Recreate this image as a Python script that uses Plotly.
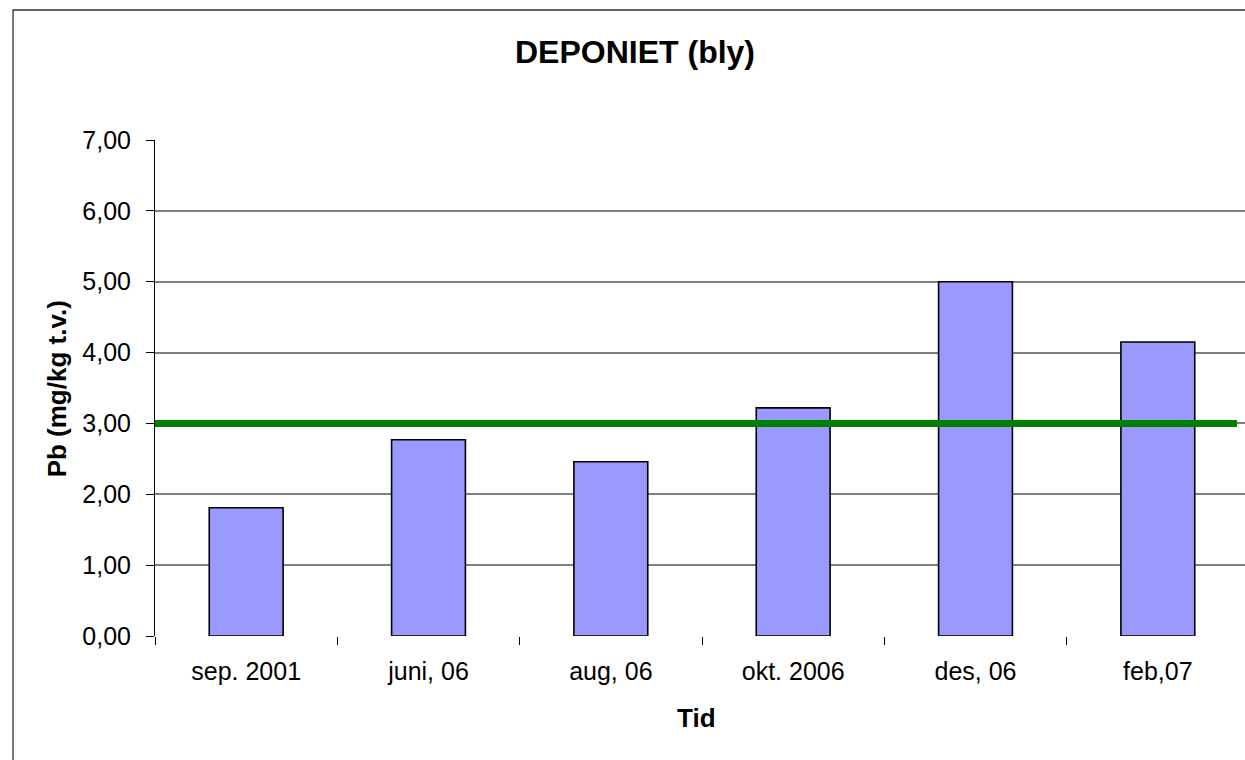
import plotly.graph_objects as go

categories = ["sep. 2001", "juni, 06", "aug, 06", "okt. 2006", "des, 06", "feb,07"]
pb_values = [1.81, 2.77, 2.46, 3.22, 5.00, 4.15]
limit_value = 3.00
y_tickvals = [0, 1, 2, 3, 4, 5, 6, 7]
y_ticktext = ["0,00", "1,00", "2,00", "3,00", "4,00", "5,00", "6,00", "7,00"]

FONT = "Liberation Sans, Arial, sans-serif"

# plot-area geometry in figure pixels
L, T, W, H = 155, 140, 1094, 496

def px(xp):
    return (xp - L) / W

def py(yp):
    return (T + H - yp) / H

fig = go.Figure()
fig.add_trace(go.Bar(
    x=categories, y=pb_values, width=0.405,
    marker=dict(color="#9999FF", line=dict(color="#000000", width=1.6)),
    showlegend=False, hoverinfo="x+y",
))

# green limit line
fig.add_shape(type="line", xref="x", yref="y",
              x0=-0.5, x1=len(categories) - 0.566, y0=limit_value, y1=limit_value,
              line=dict(color="#008000", width=7), layer="above")

# outer chart border (extends beyond the visible window on right/bottom)
fig.add_shape(type="rect", xref="paper", yref="paper",
              x0=px(12.5), x1=1.2, y0=-0.5, y1=py(10),
              line=dict(color="#333333", width=1.3), fillcolor="rgba(0,0,0,0)", layer="below")

fig.update_layout(
    width=1245, height=760,
    margin=dict(l=L, r=0, t=T, b=760 - T - H, pad=0),
    paper_bgcolor="white", plot_bgcolor="white",
    font=dict(family=FONT, color="#000000"),
    showlegend=False,
    annotations=[
        dict(text="<b>DEPONIET (bly)</b>", xref="paper", yref="paper",
             x=px(637), y=py(52), xanchor="center", yanchor="middle",
             showarrow=False, font=dict(size=32, family=FONT, color="#000000")),
        dict(text="<b>Pb (mg/kg t.v.)</b>", xref="paper", yref="paper",
             x=px(57), y=py(389), xanchor="center", yanchor="middle",
             textangle=-90, showarrow=False, font=dict(size=26, family=FONT, color="#000000")),
        dict(text="<b>Tid</b>", xref="paper", yref="paper",
             x=px(698), y=py(718), xanchor="center", yanchor="middle",
             showarrow=False, font=dict(size=26, family=FONT, color="#000000")),
    ],
)

fig.update_xaxes(
    type="category", range=[-0.5, -0.5 + len(categories) * (1245 - L) / W],
    tickson="boundaries", ticks="outside", ticklen=8, tickwidth=1, tickcolor="#000000",
    showline=False, showgrid=False, zeroline=False,
    tickfont=dict(size=25, family=FONT, color="#000000"),
    ticklabelstandoff=18,
)
fig.update_yaxes(
    range=[0, 7], tickvals=y_tickvals, ticktext=y_ticktext,
    ticks="outside", ticklen=8, tickwidth=1, tickcolor="#000000",
    showline=True, linecolor="#000000", linewidth=1,
    showgrid=True, gridcolor="#808080", gridwidth=1.5,
    zeroline=False,
    tickfont=dict(size=25, family=FONT, color="#000000"),
    ticklabelstandoff=10,
)

fig.write_html(
    "out.html",
    config={"displayModeBar": False},
    post_script="document.body.style.margin='0';document.body.style.overflow='hidden';",
)
